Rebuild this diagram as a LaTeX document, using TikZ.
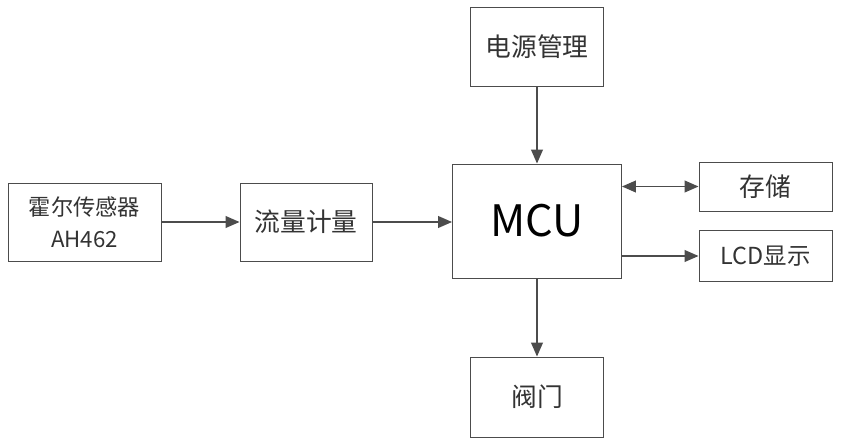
\documentclass[tikz,border=0pt]{standalone}
\usepackage{fontspec}
\setmainfont{Noto Sans CJK SC}
\usepackage{tikz}
\usetikzlibrary{arrows.meta}

\begin{document}
\begin{tikzpicture}[x=0.03cm,y=-0.03cm]
  \tikzstyle{block}=[rectangle,draw=black!70,line width=0.7pt,fill=white,
  text=black!80,font=\fontsize{22}{24}\selectfont,inner sep=1pt]
  \tikzstyle{link}=[draw,line width=1.6pt,black!70,-{Triangle[length=12pt,width=10pt]}]
  \useasboundingbox (0,0) rectangle (843,445);
  \node[block,minimum width=3.99cm,minimum height=2.37cm](power) at (537,46.5){电源管理};
  \node[block,minimum width=5.07cm,minimum height=3.42cm,text=black,font=\fontsize{37}{40}\selectfont](mcu) at (537,221){MCU};
  \node[block,minimum width=3.99cm,minimum height=1.47cm](store) at (765.5,186.5){存储};
  \node[block,minimum width=3.99cm,minimum height=1.53cm,font=\fontsize{20}{22}\selectfont](lcd) at (765.5,256){LCD显示};
  \node[block,minimum width=3.99cm,minimum height=2.40cm](valve) at (537,397){阀门};
  \node[block,minimum width=4.59cm,minimum height=2.34cm,align=center,font=\fontsize{19}{27}\selectfont](hall) at (84.5,222){霍尔传感器\\AH462};
  \node[block,minimum width=3.96cm,minimum height=2.34cm](flow) at (306,222){流量计量};
  \path[link] (power) -- (mcu);
  \path[link] (hall) -- (flow);
  \path[link] (flow) -- (mcu.west |- flow);
  \path[link,{Triangle[length=12pt,width=10pt]}-{Triangle[length=12pt,width=10pt]}] (mcu.east |- store.west) -- (store.west);
  \path[link] (mcu.east |- lcd.west) -- (lcd.west);
  \path[link] (mcu) -- (valve);
\end{tikzpicture}
\end{document}
